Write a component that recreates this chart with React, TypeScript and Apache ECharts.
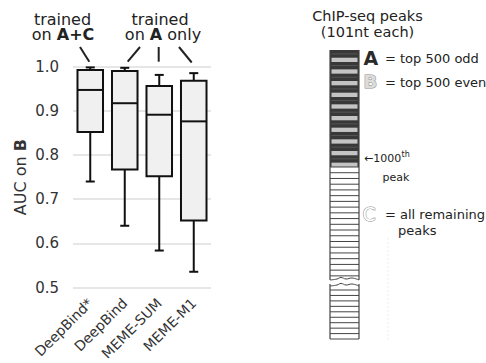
import React, { useEffect, useRef } from "react";
import * as echarts from "echarts";

const categories = ["DeepBind*", "DeepBind", "MEME-SUM", "MEME-M1"];
const lowWhisker = [0.74, 0.64, 0.584, 0.536];
const q1 = [0.852, 0.767, 0.752, 0.652];
const median = [0.947, 0.917, 0.891, 0.876];
const q3 = [0.992, 0.99, 0.956, 0.968];
const highWhisker = [0.998, 0.997, 0.981, 0.985];
const yMin = 0.5;
const yMax = 1.0;
const yStep = 0.1;

const FONT = "DejaVu Sans";

function buildDiagram(): any[] {
  const els: any[] = [];
  const x0 = 330;
  const w = 29;
  const top = 50;
  const darkEnd = 167;
  els.push({ type: "rect", shape: { x: x0, y: top, width: w, height: darkEnd - top }, style: { fill: "#383838" } });
  const period = 11.66;
  for (let k = 0; k < 10; k++) {
    const y = 57.7 + k * period;
    els.push({ type: "rect", shape: { x: x0 + 1.5, y, width: w - 3, height: 4.3 }, style: { fill: "#c4c4c4" } });
    els.push({ type: "line", shape: { x1: x0 + 1.5, y1: y - 3.8, x2: x0 + w - 1.5, y2: y - 3.8 }, style: { stroke: "#555", lineWidth: 1 } });
  }
  for (let y = 167; y <= 277; y += 5.73) {
    els.push({ type: "line", shape: { x1: x0, y1: y, x2: x0 + w, y2: y }, style: { stroke: "#444", lineWidth: 1 } });
  }
  for (let y = 290; y <= 339; y += 5.45) {
    els.push({ type: "line", shape: { x1: x0, y1: y, x2: x0 + w, y2: y }, style: { stroke: "#444", lineWidth: 1 } });
  }
  els.push({ type: "line", shape: { x1: x0, y1: 339, x2: x0 + w, y2: 339 }, style: { stroke: "#444", lineWidth: 1 } });
  const wave = (yb: number) => ({
    type: "polyline",
    shape: {
      points: [[x0, yb + 1], [x0 + 7, yb], [x0 + 11, yb - 1.5], [x0 + 16, yb], [x0 + 22, yb - 1], [x0 + w, yb + 1]],
      smooth: 0.5,
    },
    style: { stroke: "#444", lineWidth: 1, fill: null },
  });
  els.push(wave(279));
  els.push(wave(285));
  els.push({ type: "line", shape: { x1: x0, y1: top, x2: x0, y2: 280 }, style: { stroke: "#444", lineWidth: 1.2 } });
  els.push({ type: "line", shape: { x1: x0 + w, y1: top, x2: x0 + w, y2: 280 }, style: { stroke: "#444", lineWidth: 1.2 } });
  els.push({ type: "line", shape: { x1: x0, y1: 284, x2: x0, y2: 339 }, style: { stroke: "#444", lineWidth: 1.2 } });
  els.push({ type: "line", shape: { x1: x0 + w, y1: 284, x2: x0 + w, y2: 339 }, style: { stroke: "#444", lineWidth: 1.2 } });
  els.push({ type: "line", shape: { x1: 388, y1: 238, x2: 388, y2: 342 }, style: { stroke: "#eeeeee", lineWidth: 1, lineDash: [2, 2] } });
  return els;
}

function buildTexts(): any[] {
  const t = (x: number, y: number, text: string, extra: any = {}) => ({
    type: "text",
    x,
    y,
    style: { text, fontFamily: FONT, fontSize: 13, fill: "#222", textVerticalAlign: "middle", ...extra },
  });
  const els: any[] = [];
  els.push(t(367.5, 16, "ChIP-seq peaks", { fontSize: 14.5, textAlign: "center" }));
  els.push(t(367.5, 32, "(101nt each)", { fontSize: 14.5, textAlign: "center" }));
  els.push(t(363.5, 57.5, "A", { fontSize: 19, fontWeight: "bold", fill: "#2a2a2a" }));
  els.push(t(385, 58, "= top 500 odd"));
  els.push(t(363.5, 81.5, "B", { fontSize: 18, fontWeight: "bold", fill: "#dcdcdc", stroke: "#8a8a8a", lineWidth: 1 }));
  els.push(t(385, 82, "= top 500 even"));
  els.push(t(364, 158, "←1000", { fontSize: 11 }));
  els.push(t(401.5, 154, "th", { fontSize: 8 }));
  els.push(t(382.5, 177.5, "peak", { fontSize: 11 }));
  els.push(t(362.5, 214, "C", { fontSize: 19, fill: "#fff", stroke: "#8a8a8a", lineWidth: 1 }));
  els.push(t(385, 214, "= all remaining"));
  els.push(t(398, 230, "peaks"));

  const rich = {
    n: { fontFamily: FONT, fontSize: 16, fill: "#222", lineHeight: 14 },
    b: { fontFamily: FONT, fontSize: 16, fontWeight: "bold", fill: "#222", lineHeight: 14 },
  };
  const ann = (x: number, y: number, text: string) => ({
    type: "text",
    x,
    y,
    style: { text, rich, textAlign: "center", textVerticalAlign: "middle", fontFamily: FONT, fontSize: 16, lineHeight: 14, fill: "#222" },
  });
  els.push(ann(62.5, 19.5, "trained"));
  els.push(ann(63, 34, "{n|on }{b|A+C}"));
  els.push(ann(160, 19.5, "trained"));
  els.push(ann(163, 34, "{n|on }{b|A}{n| only}"));
  const ln = (x1: number, y1: number, x2: number, y2: number) => ({
    type: "line",
    shape: { x1, y1, x2, y2 },
    style: { stroke: "#222", lineWidth: 2 },
  });
  els.push(ln(80, 47, 89.3, 61.7));
  els.push(ln(127.7, 61.7, 140, 47));
  els.push(ln(158.7, 47, 158.7, 61.7));
  els.push(ln(179, 47, 191.7, 62.5));
  return els;
}

export default function App() {
  const ref = useRef<HTMLDivElement>(null);
  useEffect(() => {
    if (!ref.current) return;
    const chart = echarts.init(ref.current, undefined, { renderer: "svg" });
    const data = categories.map((_, i) => [i, lowWhisker[i], q1[i], median[i], q3[i], highWhisker[i]]);
    chart.setOption({
      animation: false,
      grid: { left: 73, right: 275, top: 66.5, bottom: 75.3, containLabel: false, outerBoundsMode: "none" },
      xAxis: {
        type: "category",
        data: categories,
        axisLine: { show: false },
        axisTick: { show: false },
        axisLabel: { rotate: 45, interval: 0, margin: 13, fontSize: 14, fontFamily: FONT, color: "#333" },
      },
      yAxis: {
        type: "value",
        min: yMin,
        max: yMax,
        interval: yStep,
        axisLine: { show: false },
        axisTick: { show: false },
        axisLabel: { margin: 14, fontSize: 15, fontFamily: FONT, color: "#333", formatter: (v: number) => v.toFixed(1) },
        splitLine: { lineStyle: { color: "#dedede", width: 1.5 } },
        name: "{a|AUC on }{b|B}",
        nameLocation: "middle",
        nameRotate: 90,
        nameGap: 45,
        nameTextStyle: {
          rich: {
            a: { fontSize: 16, fontFamily: FONT, color: "#333" },
            b: { fontSize: 16, fontFamily: FONT, color: "#333", fontWeight: "bold" },
          },
        },
      },
      series: [
        {
          type: "custom",
          data,
          encode: { x: 0, y: [1, 2, 3, 4, 5] },
          renderItem: (params: any, api: any) => {
            const ci = api.value(0);
            const pLow = api.coord([ci, api.value(1)]);
            const pQ1 = api.coord([ci, api.value(2)]);
            const pMed = api.coord([ci, api.value(3)]);
            const pQ3 = api.coord([ci, api.value(4)]);
            const pHigh = api.coord([ci, api.value(5)]);
            const bw = api.size([1, 0])[0] * 0.74;
            const cx = pMed[0];
            const cap = 9;
            const st = { stroke: "#111", lineWidth: 2 };
            return {
              type: "group",
              children: [
                { type: "line", shape: { x1: cx, y1: pLow[1], x2: cx, y2: pQ1[1] }, style: st },
                { type: "line", shape: { x1: cx, y1: pQ3[1], x2: cx, y2: pHigh[1] }, style: st },
                { type: "line", shape: { x1: cx - cap / 2, y1: pLow[1], x2: cx + cap / 2, y2: pLow[1] }, style: st },
                { type: "line", shape: { x1: cx - cap / 2, y1: pHigh[1], x2: cx + cap / 2, y2: pHigh[1] }, style: st },
                {
                  type: "rect",
                  shape: { x: cx - bw / 2, y: pQ3[1], width: bw, height: pQ1[1] - pQ3[1] },
                  style: { fill: "#f0f0f0", stroke: "#111", lineWidth: 2 },
                },
                { type: "line", shape: { x1: cx - bw / 2, y1: pMed[1], x2: cx + bw / 2, y2: pMed[1] }, style: st },
              ],
            };
          },
        },
      ],
      graphic: { elements: [...buildDiagram(), ...buildTexts()] },
    });
    return () => chart.dispose();
  }, []);
  return <div ref={ref} style={{ position: "absolute", left: 0, top: 0, width: 486, height: 363, background: "#fff" }} />;
}
